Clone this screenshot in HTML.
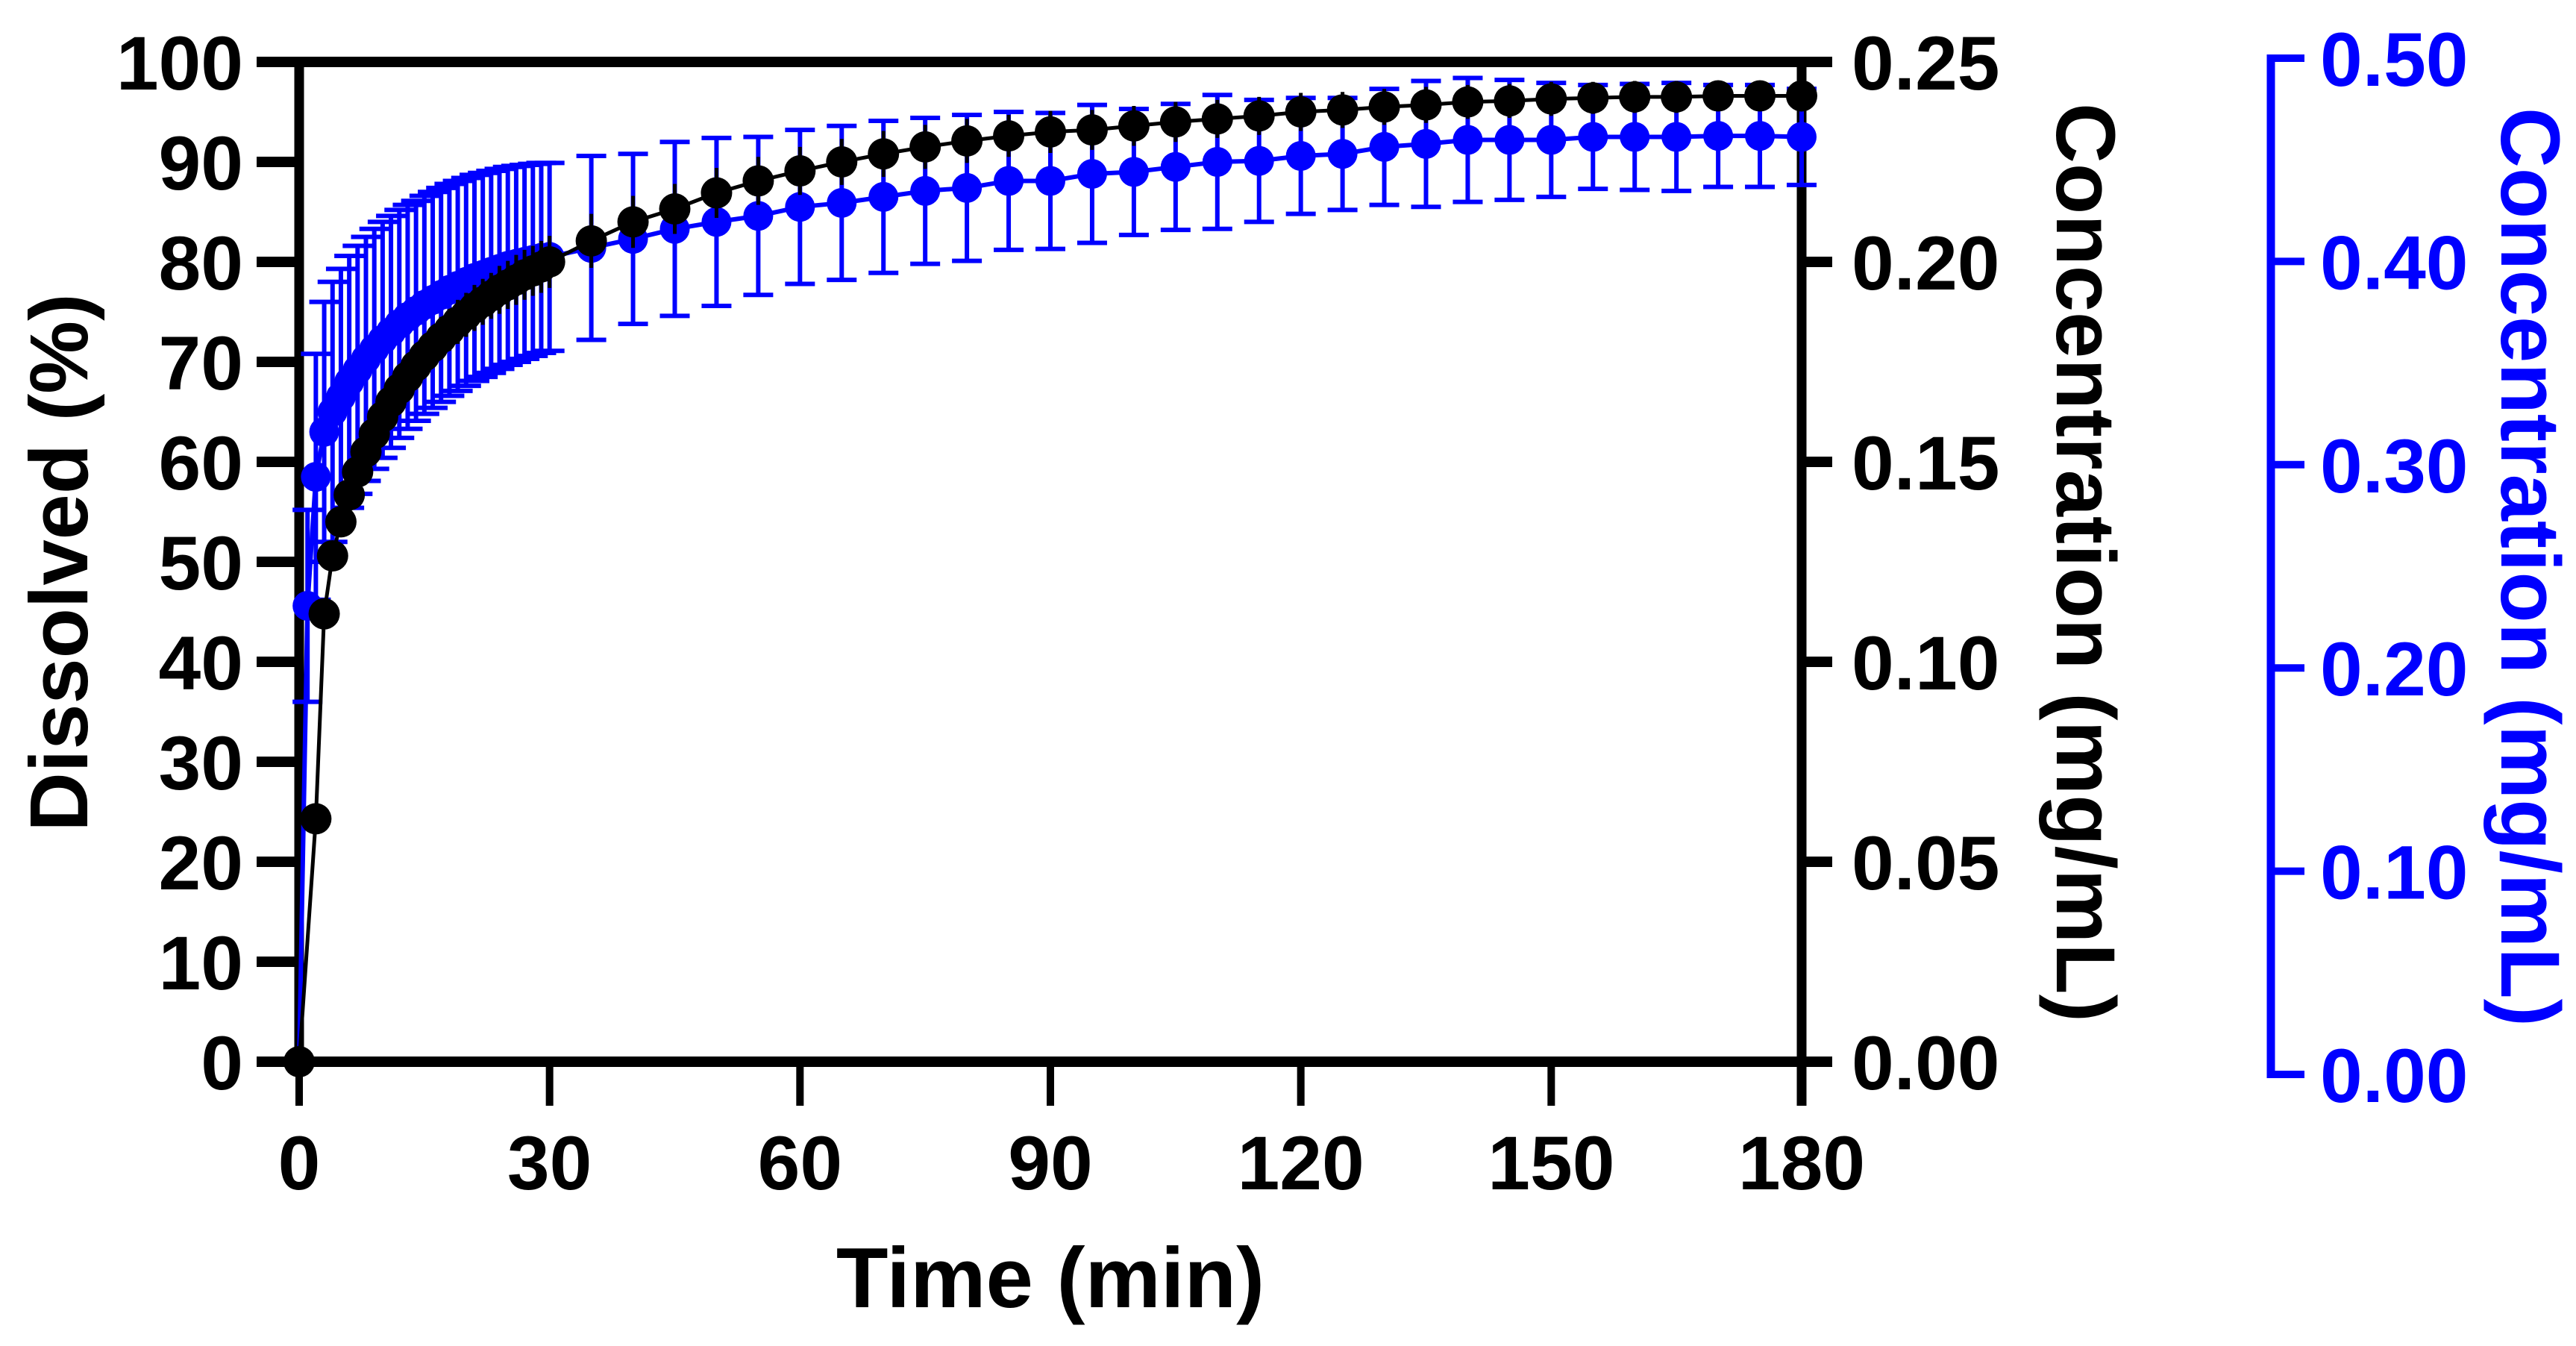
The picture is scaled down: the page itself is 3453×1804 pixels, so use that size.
<!DOCTYPE html>
<html><head><meta charset="utf-8"><style>
html,body{margin:0;padding:0;background:#fff;}
svg{display:block;font-family:"Liberation Sans",Arial,sans-serif;font-weight:bold;}
</style></head><body>
<svg id="chart" width="3453" height="1804" viewBox="0 0 3453 1804">
<g id="axes"></g>
<g id="series"></g>
</svg>
<script>
// ---- data ----
const blackTimes = [0,2,3,4,5,6,7,8,9,10,11,12,13,14,15,16,17,18,19,20,21,22,23,24,25,26,27,28,29,30,35,40,45,50,55,60,65,70,75,80,85,90,95,100,105,110,115,120,125,130,135,140,145,150,155,160,165,170,175,180];
const blackMeans = [0,24.3,44.8,50.6,54,56.7,59,61,62.8,64.5,66,67.3,68.5,69.6,70.6,71.5,72.4,73.2,74,74.7,75.4,76,76.6,77.2,77.7,78.2,78.7,79.1,79.5,80,82.1,84,85.3,86.9,88.1,89.1,90,90.8,91.5,92.1,92.6,93,93.2,93.6,94,94.3,94.6,95,95.2,95.5,95.7,96,96.1,96.3,96.4,96.5,96.5,96.6,96.6,96.6];
const blackSD = [0,1.5,1.5,1.5,1.5,1.6,1.6,1.7,1.7,1.8,1.8,1.9,1.9,2,2,2,2.1,2.1,2.2,2.2,2.3,2.3,2.3,2.4,2.4,2.5,2.5,2.5,2.6,2.6,2.7,2.6,2.5,2.5,2.4,2.4,2.3,2.3,2.2,2.2,2.1,2.1,2,2,2,1.9,1.9,1.9,1.8,1.8,1.8,1.7,1.7,1.7,1.6,1.6,1.6,1.5,1.5,1.5];
const blueTimes = [0,1,2,3,4,5,6,7,8,9,10,11,12,13,14,15,16,17,18,19,20,21,22,23,24,25,26,27,28,29,30,35,40,45,50,55,60,65,70,75,80,85,90,95,100,105,110,115,120,125,130,135,140,145,150,155,160,165,170,175,180];
const blueMeans = [0,45.6,58.5,63,65,66.5,68,69.2,70.3,71.3,72.2,73,73.8,74.5,75.1,75.7,76.2,76.7,77.2,77.6,78,78.4,78.7,79,79.3,79.6,79.8,80,80.2,80.4,80.5,81.4,82.3,83.3,84,84.6,85.5,85.9,86.5,87.1,87.4,88.1,88.1,88.8,89,89.5,90,90.1,90.6,90.8,91.5,91.8,92.2,92.2,92.2,92.5,92.5,92.5,92.6,92.6,92.5];
const blueSD = [0,9.6,12.3,13,13,12.8,12.6,12.4,12.2,12,11.8,11.6,11.4,11.2,11,10.9,10.8,10.7,10.6,10.5,10.4,10.3,10.2,10.1,10,9.9,9.8,9.7,9.6,9.5,9.4,9.2,8.5,8.7,8.4,7.9,7.7,7.7,7.6,7.3,7.3,6.9,6.8,6.9,6.3,6.3,6.7,6.1,5.8,5.6,5.8,6.3,6.2,6.0,5.7,5.2,5.3,5.4,5.1,5.1,4.8];
const xTicks = [0,30,60,90,120,150,180];
const yTicks = [0,10,20,30,40,50,60,70,80,90,100];
const rTicks = ["0.00","0.05","0.10","0.15","0.20","0.25"];
const bTicks = ["0.00","0.10","0.20","0.30","0.40","0.50"];

// ---- scales ----
const X0=401, X1=2415, Y0=1423, Y1=83;
const xs = t => X0 + (t/180)*(X1-X0);
const ys = v => Y0 - (v/100)*(Y0-Y1);
const BY0=1440, BY1=78;
const NS="http://www.w3.org/2000/svg";
function mk(tag, parent, attrs){const e=document.createElementNS(NS,tag);for(const k in attrs)e.setAttribute(k,attrs[k]);parent.appendChild(e);return e;}
const axes=document.getElementById('axes');
const series=document.getElementById('series');

let e;
e=mk('line',axes,{x1:344,y1:Y1,x2:2456,y2:Y1,stroke:'#000','stroke-width':14});


e=mk('line',axes,{x1:X0,y1:Y1-7,x2:X0,y2:Y0,stroke:'#000','stroke-width':13});


e=mk('line',axes,{x1:X1,y1:Y1-7,x2:X1,y2:1482,stroke:'#000','stroke-width':13});


e=mk('line',axes,{x1:344,y1:Y0,x2:2456,y2:Y0,stroke:'#000','stroke-width':14});



xTicks.forEach(t=>{
  const l=mk('line',axes,{x1:xs(t),y1:Y0,x2:xs(t),y2:1482,stroke:'#000','stroke-width':10});
  
  
  const tx=mk('text',axes,{x:xs(t),y:1594,'text-anchor':'middle','font-size':102,fill:'#000'});
  tx.textContent=t;
  
  
});
yTicks.forEach(v=>{
  const l=mk('line',axes,{x1:344,y1:ys(v),x2:X0,y2:ys(v),stroke:'#000','stroke-width':14});
  
  
  const tx=mk('text',axes,{x:326,y:ys(v)+37,'text-anchor':'end','font-size':102,fill:'#000'});
  tx.textContent=v;
  
  
});
rTicks.forEach((s,i)=>{
  const y=Y0-i*(Y0-Y1)/5;
  const l=mk('line',axes,{x1:X1,y1:y,x2:2456,y2:y,stroke:'#000','stroke-width':14});
  
  
  const tx=mk('text',axes,{x:2482,y:y+37,'font-size':102,fill:'#000'});
  tx.textContent=s;
  
  
});
e=mk('line',axes,{x1:3044,y1:BY1-5,x2:3044,y2:BY0+5,stroke:'#0000ff','stroke-width':11});


bTicks.forEach((s,i)=>{
  const y=BY0-i*(BY0-BY1)/5;
  const l=mk('line',axes,{x1:3040,y1:y,x2:3089,y2:y,stroke:'#0000ff','stroke-width':10});
  
  
  const tx=mk('text',axes,{x:3110,y:y+37,'font-size':102,fill:'#0000ff'});
  tx.textContent=s;
  
  
});
e=mk('text',axes,{x:1408,y:1752,'text-anchor':'middle','font-size':114,fill:'#000'});
e.textContent='Time (min)';


e=mk('text',axes,{x:0,y:0,'text-anchor':'middle','font-size':110,fill:'#000',transform:'translate(117,754) rotate(-90)'});
e.textContent='Dissolved (%)';


e=mk('text',axes,{x:0,y:0,'text-anchor':'middle','font-size':112,fill:'#000',transform:'translate(2757,754) rotate(90)'});
e.textContent='Concentration (mg/mL)';


e=mk('text',axes,{x:0,y:0,'text-anchor':'middle','font-size':112,fill:'#0000ff',transform:'translate(3353,760) rotate(90)'});
e.textContent='Concentration (mg/mL)';



function drawSeries(times, means, sds, color, name, caps, r, lw){
  const g=mk('g',series,{});
  
  
  times.forEach((t,i)=>{
    if(sds[i]<=0) return;
    const x=xs(t), yt=ys(means[i]+sds[i]), yb=ys(means[i]-sds[i]);
    let d=`M${x},${yt}V${yb}`;
    if(caps) d+=`M${x-20},${yt}H${x+20}M${x-20},${yb}H${x+20}`;
    const b=mk('path',g,{d:d,stroke:color,'stroke-width':caps?6:5,fill:'none'});
    
    
  });
  const pts=times.map((t,i)=>xs(t)+','+ys(means[i])).join(' ');
  const pl=mk('polyline',g,{points:pts,stroke:color,'stroke-width':lw,fill:'none'});
  
  
  times.forEach((t,i)=>{
    const c=mk('circle',g,{cx:xs(t),cy:ys(means[i]),r:r,fill:color});
    
    
  });
}
drawSeries(blueTimes, blueMeans, blueSD, '#0000ff', 'blue', true, 20, 6);
drawSeries(blackTimes, blackMeans, blackSD, '#000000', 'black', false, 21, 5);
</script>
</body></html>
